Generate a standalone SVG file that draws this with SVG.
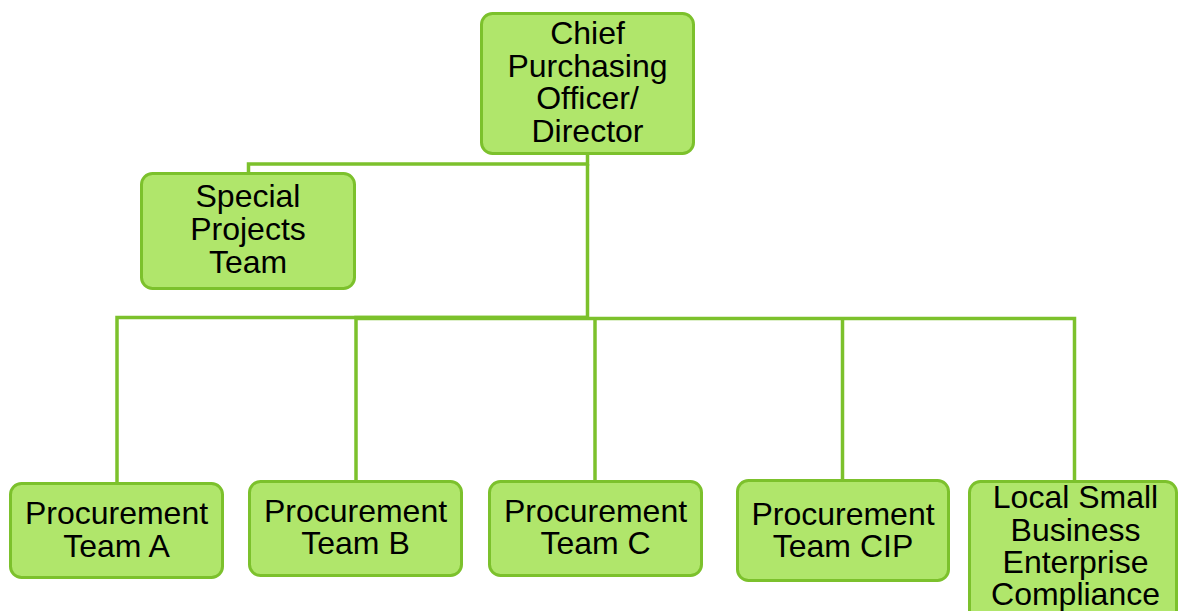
<svg xmlns="http://www.w3.org/2000/svg" width="1180" height="611" viewBox="0 0 1180 611">
<style>
.box{fill:#b0e66b;stroke:#7cc12c;stroke-width:3}
.lbl{font-family:"Liberation Sans",Arial,sans-serif;font-size:32px;fill:#000;text-anchor:middle}
.con{fill:none;stroke:#7cc12c;stroke-width:3.5}
</style>
<rect width="1180" height="611" fill="#fff"/>
<g id="connectors">
<path class="con" d="M587.5 154 V164 H248.5 V173"/>
<path class="con" d="M587.5 164 V317.5 H117 V483"/>
<path class="con" d="M587.5 317.5 H356 V481"/>
<path class="con" d="M356 318.5 H1074.5 V481"/>
<path class="con" d="M595 318.5 V481"/>
<path class="con" d="M842.5 318.5 V480"/>
</g>
<g id="n-cpo">
<rect class="box" x="481.5" y="13.5" width="212" height="140" rx="11"/>
<text class="lbl" x="587.5"><tspan x="587.5" y="44">Chief</tspan><tspan x="587.5" y="76.5">Purchasing</tspan><tspan x="587.5" y="109">Officer/</tspan><tspan x="587.5" y="141.5">Director</tspan></text>
</g>
<g id="n-special">
<rect class="box" x="141.5" y="173.5" width="213" height="115" rx="11"/>
<text class="lbl"><tspan x="248" y="207">Special</tspan><tspan x="248" y="240">Projects</tspan><tspan x="248" y="273">Team</tspan></text>
</g>
<g id="n-team-a">
<rect class="box" x="10.5" y="483.5" width="212" height="94" rx="11"/>
<text class="lbl"><tspan x="116.5" y="524">Procurement</tspan><tspan x="116.5" y="557">Team A</tspan></text>
</g>
<g id="n-team-b">
<rect class="box" x="249.5" y="481.5" width="212" height="94" rx="11"/>
<text class="lbl"><tspan x="355.5" y="522">Procurement</tspan><tspan x="355.5" y="554">Team B</tspan></text>
</g>
<g id="n-team-c">
<rect class="box" x="489.5" y="481.5" width="212" height="94" rx="11"/>
<text class="lbl"><tspan x="595.5" y="522">Procurement</tspan><tspan x="595.5" y="554">Team C</tspan></text>
</g>
<g id="n-team-cip">
<rect class="box" x="737.5" y="480.5" width="211" height="100" rx="11"/>
<text class="lbl"><tspan x="843" y="525">Procurement</tspan><tspan x="843" y="557">Team CIP</tspan></text>
</g>
<g id="n-lsbe">
<rect class="box" x="969.5" y="481.5" width="207" height="150" rx="11"/>
<text class="lbl"><tspan x="1075.5" y="508">Local Small</tspan><tspan x="1075.5" y="541">Business</tspan><tspan x="1075.5" y="573">Enterprise</tspan><tspan x="1075.5" y="605">Compliance</tspan></text>
</g>
</svg>
